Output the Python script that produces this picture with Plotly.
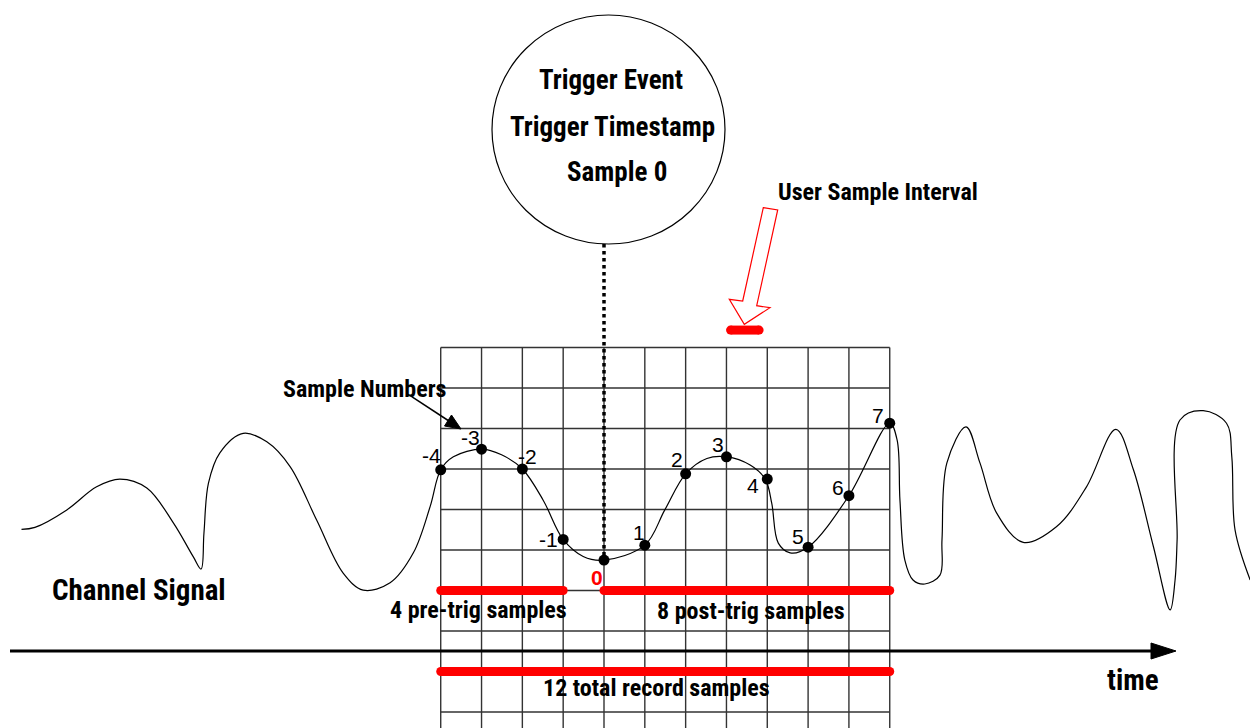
import plotly.graph_objects as go

W, H = 1250, 728

# ---------------- data ----------------
# sample numbers (time in sample intervals, 0 = trigger) and amplitude in grid units
sample_numbers = [-4, -3, -2, -1, 0, 1, 2, 3, 4, 5, 6, 7]
sample_values = [1.98, 2.49, 2.00, 0.26, -0.25, 0.12, 1.88, 2.30, 1.75, 0.07, 1.34, 3.13]

# continuous channel signal (time in sample intervals, amplitude in grid units)
signal_time = [-14.27, -13.94, -13.16, -12.43, -11.86, -11.20, -10.55, -10.06, -9.87, -9.80, -9.69,
               -9.41, -8.84, -8.26, -7.69, -7.04, -6.39, -5.90, -5.24, -4.67, -4.26,
               -4.00, -3.69, -3.00, -2.51, -2.00, -1.49, -1.00, -0.51, 0.00, 1.00,
               1.49, 2.00, 2.52, 3.00, 3.58, 3.95, 4.11, 4.27, 4.56, 5.00,
               6.00, 7.00, 7.18, 7.25, 7.37, 7.57, 7.86, 8.23, 8.28, 8.40,
               8.87, 9.21, 9.62, 10.27, 11.09, 11.82, 12.54, 12.97, 13.46, 13.87,
               13.99, 14.04, 14.11, 14.68, 15.25, 15.38, 15.46, 15.83]
signal_amp = [0.51, 0.56, 0.99, 1.56, 1.75, 1.53, 0.67, -0.17, -0.47, 0.42, 1.65,
              2.40, 2.88, 2.67, 2.06, 0.74, -0.57, -0.99, -0.81, -0.07, 1.07,
              1.98, 2.30, 2.49, 2.35, 2.00, 1.23, 0.26, -0.16, -0.25, 0.12,
              0.99, 1.88, 2.26, 2.30, 2.10, 1.75, 1.15, 0.17, -0.07, 0.07,
              1.34, 3.13, 2.72, 1.23, -0.25, -0.74, -0.84, -0.62, 0.25, 2.15,
              3.04, 2.15, 0.91, 0.19, 0.58, 1.56, 2.98, 1.98, 0.08, -1.48,
              -0.74, 0.25, 3.21, 3.44, 3.13, 2.30, 0.49, -0.74]

grid_levels = [5, 4, 3, 2, 1, 0, -1, -2, -3, -4]

# record segments: (start sample, end sample, level)
pre_trig = (-4, -1, -1)
post_trig = (0, 7, -1)
total_record = (-4, 7, -3)
user_interval = (3.10, 3.80, 5.43)

# label text offsets (pixels) for the sample numbers
label_dx = [-9, -11, 5, -15, -7, -6, -9, -8, -14, -10, -11, -12]
label_dy = [14, 12, 13, 0, -17, 13, 14, 12, -6, 11, 8, 8]

# ---------------- helpers ----------------
X0, DX = 604.0, 40.82   # pixel of sample 0, pixels per sample
Y0, DY = 550.0, 40.5    # pixel of level 0, pixels per level
xr = [(0 - X0) / DX, (W - X0) / DX]
yr = [(Y0 - H) / DY, (Y0 - 0) / DY]


def px(x, y):
    return x / W, 1 - y / H


BOLD = "Roboto Condensed, Open Sans Condensed, DejaVu Sans Condensed, sans-serif"
REG = "Liberation Sans, Arial, sans-serif"

fig = go.Figure()
shapes = []
annotations = []

# grid
gx0, gx1 = sample_numbers[0], sample_numbers[-1]
for n in sample_numbers:
    shapes.append(dict(type="line", xref="x", yref="y", x0=n, x1=n, y0=grid_levels[0], y1=yr[0],
                       line=dict(color="#333333", width=1.4), layer="below"))
for lv in grid_levels:
    shapes.append(dict(type="line", xref="x", yref="y", x0=gx0, x1=gx1, y0=lv, y1=lv,
                       line=dict(color="#333333", width=1.4), layer="below"))

# time axis
ax_y = 651
a0 = px(10, ax_y)
a1 = px(1153, ax_y)
shapes.append(dict(type="line", xref="paper", yref="paper", x0=a0[0], y0=a0[1], x1=a1[0], y1=a1[1],
                   line=dict(color="black", width=3)))
t1, t2, t3 = px(1151, ax_y - 8), px(1176, ax_y), px(1151, ax_y + 8)
shapes.append(dict(type="path", xref="paper", yref="paper",
                   path=f"M {t1[0]},{t1[1]} L {t2[0]},{t2[1]} L {t3[0]},{t3[1]} Z",
                   fillcolor="black", line=dict(color="black", width=1)))

# trigger circle
c0, c1 = px(492, 244), px(725, 15)
shapes.append(dict(type="circle", xref="paper", yref="paper", x0=c0[0], y0=c0[1], x1=c1[0], y1=c1[1],
                   line=dict(color="black", width=1.2)))

# dotted trigger line
shapes.append(dict(type="line", xref="x", yref="paper", x0=0, x1=0, y0=c0[1],
                   y1=(sample_values[4] - yr[0]) / (yr[1] - yr[0]),
                   line=dict(color="black", width=3.5, dash="dot")))

# red hollow arrow
arrow_pts = [(763.3, 207.7), (777.7, 210), (756.7, 305.7), (770, 307.7), (744.3, 324.3),
             (729.3, 299.3), (742.7, 301)]
p = [px(*q) for q in arrow_pts]
path = "M " + " L ".join(f"{a},{b}" for a, b in p) + " Z"
shapes.append(dict(type="path", xref="paper", yref="paper", path=path,
                   fillcolor="white", line=dict(color="red", width=1.2)))

# "Sample Numbers" arrow
s0, s1 = px(411.7, 396.7), px(452, 423)
shapes.append(dict(type="line", xref="paper", yref="paper", x0=s0[0], y0=s0[1], x1=s1[0], y1=s1[1],
                   line=dict(color="black", width=1.5)))
h1, h2, h3 = px(461, 429), px(444.5, 426), px(451.5, 415)
shapes.append(dict(type="path", xref="paper", yref="paper",
                   path=f"M {h1[0]},{h1[1]} L {h2[0]},{h2[1]} L {h3[0]},{h3[1]} Z",
                   fillcolor="black", line=dict(color="black", width=1)))

# signal
fig.add_trace(go.Scatter(x=signal_time, y=signal_amp, mode="lines",
                         line=dict(color="black", width=1.2, shape="spline", smoothing=1.0),
                         hoverinfo="skip"))

# record bars
for seg in [pre_trig, post_trig, total_record, user_interval]:
    fig.add_trace(go.Scatter(x=[seg[0], seg[1]], y=[seg[2], seg[2]], mode="lines+markers",
                             line=dict(color="red", width=9),
                             marker=dict(color="red", size=9, line=dict(width=0)),
                             hoverinfo="skip"))

# sample points
fig.add_trace(go.Scatter(x=sample_numbers, y=sample_values, mode="markers",
                         marker=dict(color="black", size=11), hoverinfo="skip"))

# sample labels
for n, v, dx, dy in zip(sample_numbers, sample_values, label_dx, label_dy):
    if n == 0:
        font = dict(family=REG, size=21, color="red")
        txt = f"<b>{n}</b>"
    else:
        font = dict(family=REG, size=21, color="black")
        txt = str(n)
    annotations.append(dict(x=n, y=v, xref="x", yref="y", text=txt, showarrow=False,
                            xshift=dx, yshift=dy, font=font, xanchor="center", yanchor="middle"))


def label(text, x, y, size):
    xx, yy = px(x, y)
    annotations.append(dict(x=xx, y=yy, xref="paper", yref="paper", text=f"<b>{text}</b>",
                            showarrow=False, xanchor="center", yanchor="middle",
                            font=dict(family=BOLD, size=size, color="black")))


label("Trigger Event", 611, 80, 27)
label("Trigger Timestamp", 612, 127, 27)
label("Sample 0", 617, 172, 27)
label("User Sample Interval", 878, 192, 24)
label("Sample Numbers", 365, 389, 24)
label("Channel Signal", 139, 590, 29)
label("4 pre-trig samples", 478, 610, 24)
label("8 post-trig samples", 751, 611, 24)
label("12 total record samples", 656, 688, 24)
label("time", 1133, 680, 29)

fig.update_layout(
    width=W, height=H,
    margin=dict(l=0, r=0, t=0, b=0),
    paper_bgcolor="white", plot_bgcolor="white",
    showlegend=False,
    xaxis=dict(range=xr, visible=False, fixedrange=True),
    yaxis=dict(range=yr, visible=False, fixedrange=True),
    shapes=shapes,
    annotations=annotations,
)

fig.write_html("out.html", config={"displayModeBar": False},
               post_script="document.body.style.margin='0px';")
